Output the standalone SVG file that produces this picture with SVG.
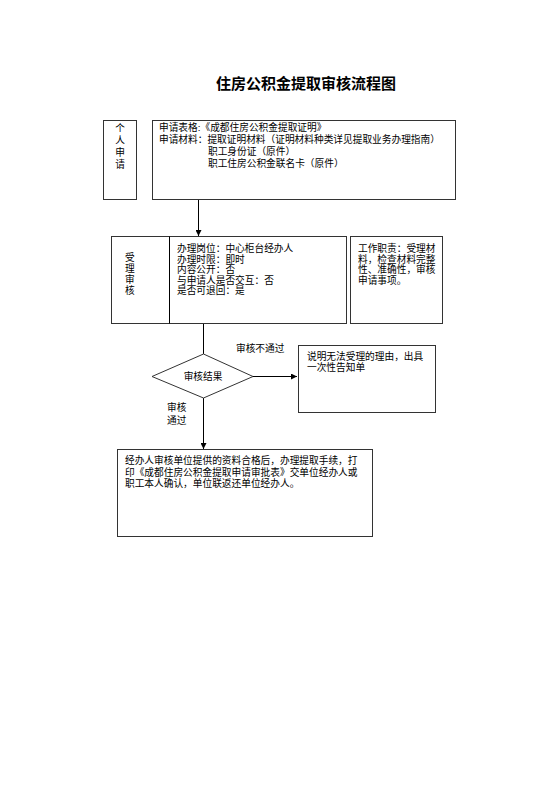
<svg xmlns="http://www.w3.org/2000/svg" width="560" height="792" viewBox="0 0 560 792">
<defs>
<marker id="arr" viewBox="0 0 10 10" refX="10" refY="5" markerWidth="6" markerHeight="6" markerUnits="userSpaceOnUse" orient="auto">
<path d="M0,0 L10,5 L0,10 z" fill="#000"/>
</marker>
<style>
.box{fill:#fff;stroke:#333;stroke-width:1}
.t{font-family:"Liberation Sans","Noto Sans CJK SC",sans-serif;font-size:9.7px;fill:#000}
.title{font-family:"Liberation Sans","Noto Sans CJK SC",sans-serif;font-size:15px;font-weight:bold;fill:#000}
.ln{stroke:#000;stroke-width:1;fill:none}
</style>
</defs>
<rect width="560" height="792" fill="#fff"/>
<text class="title" x="216" y="89">住房公积金提取审核流程图</text>
<g id="connectors">
<line class="ln" x1="198.5" y1="200" x2="198.5" y2="236" marker-end="url(#arr)"/>
<line class="ln" x1="203.5" y1="324" x2="203.5" y2="354"/>
<line class="ln" x1="253" y1="376.5" x2="297" y2="376.5" marker-end="url(#arr)"/>
<line class="ln" x1="203.5" y1="398" x2="203.5" y2="449" marker-end="url(#arr)"/>
<text class="t" x="236" y="352">审核不通过</text>
<text class="t" x="167" y="411">审核</text>
<text class="t" x="167" y="424">通过</text>
</g>
<g id="n-apply">
<rect class="box" x="103.5" y="120.5" width="33" height="79"/>
<text class="t" x="120" y="132" text-anchor="middle">个</text>
<text class="t" x="120" y="144" text-anchor="middle">人</text>
<text class="t" x="120" y="156" text-anchor="middle">申</text>
<text class="t" x="120" y="168" text-anchor="middle">请</text>
</g>
<g id="n-materials">
<rect class="box" x="152.5" y="120.5" width="303" height="79"/>
<text class="t" x="159" y="131">申请表格:《成都住房公积金提取证明》</text>
<text class="t" x="159" y="143">申请材料：提取证明材料（证明材料种类详见提取业务办理指南）</text>
<text class="t" x="208" y="155">职工身份证（原件）</text>
<text class="t" x="208" y="167">职工住房公积金联名卡（原件）</text>
</g>
<g id="n-review">
<rect class="box" x="111.5" y="236.5" width="235" height="87"/>
<line class="ln" x1="169.5" y1="236.5" x2="169.5" y2="323.5" stroke="#333"/>
<text class="t" x="125" y="261">受</text>
<text class="t" x="125" y="272">理</text>
<text class="t" x="125" y="283">审</text>
<text class="t" x="125" y="294">核</text>
<text class="t" x="177" y="252">办理岗位：中心柜台经办人</text>
<text class="t" x="177" y="262.5">办理时限：即时</text>
<text class="t" x="177" y="273">内容公开：否</text>
<text class="t" x="177" y="283.5">与申请人是否交互：否</text>
<text class="t" x="177" y="294">是否可退回：是</text>
</g>
<g id="n-duty">
<rect class="box" x="350.5" y="236.5" width="92" height="87"/>
<text class="t" x="358" y="252">工作职责：受理材</text>
<text class="t" x="358" y="262.5">料，检查材料完整</text>
<text class="t" x="358" y="273">性、准确性，审核</text>
<text class="t" x="358" y="283.5">申请事项。</text>
</g>
<g id="n-result">
<polygon class="box" points="203.5,354 253,376.5 203.5,398 152,376.5"/>
<text class="t" x="203" y="380" text-anchor="middle">审核结果</text>
</g>
<g id="n-reject">
<rect class="box" x="298.5" y="345.5" width="137" height="67"/>
<text class="t" x="307" y="360">说明无法受理的理由，出具</text>
<text class="t" x="307" y="371">一次性告知单</text>
</g>
<g id="n-approve">
<rect class="box" x="117.5" y="449.5" width="255" height="87"/>
<text class="t" x="125" y="464">经办人审核单位提供的资料合格后，办理提取手续，打</text>
<text class="t" x="125" y="476">印《成都住房公积金提取申请审批表》交单位经办人或</text>
<text class="t" x="125" y="487">职工本人确认，单位联返还单位经办人。</text>
</g>
</svg>
